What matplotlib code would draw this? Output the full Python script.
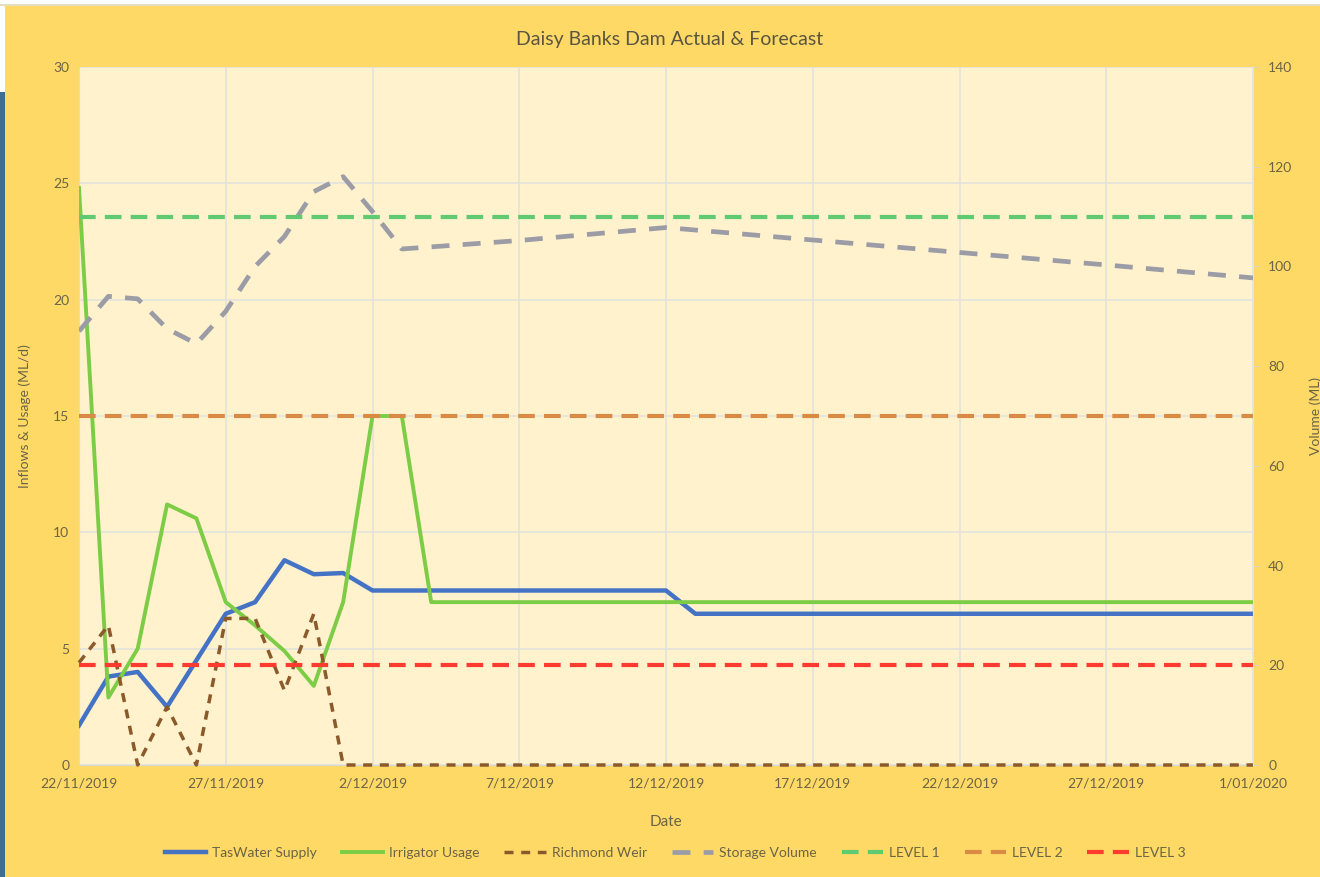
import matplotlib
matplotlib.use("Agg")
import matplotlib.pyplot as plt
from matplotlib.patches import Rectangle
from datetime import date, timedelta

plt.rcParams['font.family'] = ['Lato', 'DejaVu Sans']

# ---------------- data ----------------
start = date(2019, 11, 22)

# TasWater Supply (ML/d) - day offsets and values
supply_days = [0, 1, 2, 3, 4, 5, 6, 7, 8, 9, 10, 20, 21, 40]
supply_vals = [1.7, 3.8, 4.0, 2.5, 4.5, 6.5, 7.0, 8.8, 8.2, 8.25, 7.5, 7.5, 6.5, 6.5]

# Irrigator Usage (ML/d)
irr_days = [0, 1, 2, 3, 4, 5, 6, 7, 8, 9, 10, 11, 12, 40]
irr_vals = [24.8, 2.9, 5.0, 11.2, 10.6, 7.0, 6.0, 4.9, 3.4, 7.0, 15.0, 15.0, 7.0, 7.0]

# Richmond Weir (ML/d)
weir_days = [0, 1, 2, 3, 4, 5, 6, 7, 8, 9, 40]
weir_vals = [4.4, 6.0, 0.0, 2.5, 0.0, 6.3, 6.3, 3.2, 6.5, 0.0, 0.0]

# Storage Volume (ML) - right axis
stor_days = [0, 1, 2, 3, 4, 5, 6, 7, 8, 9, 10, 11, 15, 20, 25, 30, 35, 40]
stor_vals = [87.0, 94.0, 93.5, 87.5, 84.5, 91.0, 100.0, 106.0, 115.0, 118.0,
             111.0, 103.5, 105.2, 107.8, 105.3, 102.8, 100.3, 97.7]

# Levels (ML) - right axis
level_names = ['LEVEL 1', 'LEVEL 2', 'LEVEL 3']
level_vals = [110, 70, 20]
level_colors = ['#5fca72', '#d98a44', '#ff3b30']

left_ticks = [0, 5, 10, 15, 20, 25, 30]
right_ticks = [0, 20, 40, 60, 80, 100, 120, 140]

def to_dates(days):
    return [start + timedelta(days=d) for d in days]

# ---------------- figure ----------------
W, H = 1320, 877
fig = plt.figure(figsize=(W / 100, H / 100), dpi=100)
fig.patch.set_facecolor('white')
fig.add_artist(Rectangle((5 / W, 0), 1 - 5 / W, 1 - 6 / H, transform=fig.transFigure,
                         facecolor='#ffd966', edgecolor='none', zorder=-10))
fig.add_artist(Rectangle((0, 1 - 6 / H), 1, 1.5 / H, transform=fig.transFigure,
                         facecolor='#e6dcc0', edgecolor='none', zorder=-9))
fig.add_artist(Rectangle((0, 0), 5 / W, 1 - 92 / H, transform=fig.transFigure,
                         facecolor='#3d6e8e', edgecolor='none', zorder=-9))

ax = fig.add_axes([79 / W, 1 - 765 / H, (1253 - 79) / W, (765 - 67) / H])
ax.set_facecolor('#fff2cc')
ax2 = ax.twinx()

txt = '#6b6445'

x0 = start
x1 = start + timedelta(days=40)

l_sup, = ax.plot(to_dates(supply_days), supply_vals, color='#4472c4', lw=3.2,
                 label='TasWater Supply', zorder=5)
l_irr, = ax.plot(to_dates(irr_days), irr_vals, color='#7ccc45', lw=2.8,
                 label='Irrigator Usage', zorder=5)
l_weir, = ax.plot(to_dates(weir_days), weir_vals, color='#8b5a2b', lw=2.5,
                  ls=(0, (2.6, 2.2)), label='Richmond Weir', zorder=5, clip_on=False)

l_stor, = ax2.plot(to_dates(stor_days), stor_vals, color='#9c9ca6', lw=3.4,
                   ls=(0, (3.8, 2.8)), label='Storage Volume', zorder=4)
level_lines = []
for n, v, c in zip(level_names, level_vals, level_colors):
    ln, = ax2.plot([x0, x1], [v, v], color=c, lw=3.0, ls=(0, (4, 2.2)), label=n, zorder=4)
    level_lines.append(ln)

ax.set_xlim(x0, x1)
ax.set_ylim(0, 30)
ax2.set_ylim(0, 140)
ax.set_yticks(left_ticks)
ax2.set_yticks(right_ticks)

ticks = [start + timedelta(days=d) for d in range(0, 41, 5)]
ax.set_xticks(ticks)
ax.set_xticklabels([f"{t.day}/{t.month:02d}/{t.year}" if t.year == 2020 else f"{t.day}/{t.month}/{t.year}"
                    for t in ticks])

ax.grid(True, color='#e3e3dc', lw=1.2, zorder=0)
ax.set_axisbelow(True)

for a in (ax, ax2):
    for s in a.spines.values():
        s.set_visible(False)
ax.spines['bottom'].set_visible(True)
ax.spines['bottom'].set_color('#d9d9d0')
ax.spines['left'].set_visible(True)
ax.spines['left'].set_color('#e0ddd0')
ax2.spines['right'].set_visible(True)
ax2.spines['right'].set_color('#e8e4d2')

ax.tick_params(axis='both', colors=txt, labelsize=10, length=0, pad=7)
ax.tick_params(axis='x', pad=9)
ax2.tick_params(axis='y', colors=txt, labelsize=10, length=4, width=0.8, pad=7,
                color='#d9d5c0')

ax.set_xlabel('Date', color=txt, fontsize=11, labelpad=18)
ax.set_ylabel('Inflows & Usage (ML/d)', color=txt, fontsize=10, labelpad=16)
ax2.set_ylabel('Volume (ML)', color=txt, fontsize=10, labelpad=12)

fig.text(670 / W, 1 - 40 / H, 'Daisy Banks Dam Actual & Forecast', ha='center', va='center',
         color='#5a5540', fontsize=14)

handles = [l_sup, l_irr, l_weir, l_stor] + level_lines
leg = fig.legend(handles=handles, labels=[h.get_label() for h in handles],
                 loc='center', bbox_to_anchor=(675 / W, 1 - 853 / H), ncol=7,
                 frameon=False, fontsize=10, handlelength=3.0, columnspacing=1.8,
                 handletextpad=0.4, labelcolor=txt)

fig.savefig('out.png', dpi=100, facecolor=fig.get_facecolor())
